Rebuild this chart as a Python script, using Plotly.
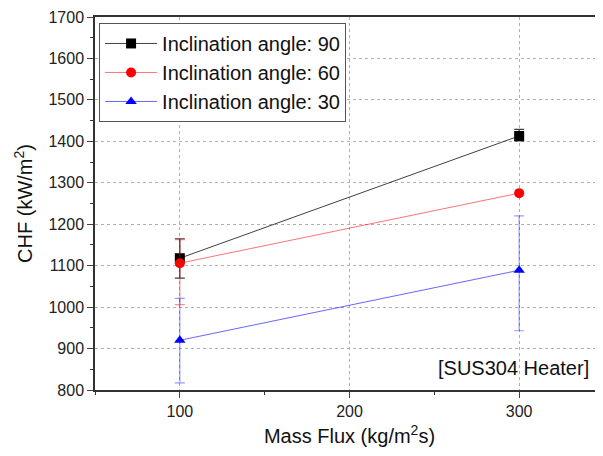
import plotly.graph_objects as go

mass_flux = [100, 300]
chf_90 = [1118, 1413]
err_90_plus = [47, 16]
err_90_minus = [48, 12]
chf_60 = [1106, 1275]
err_60_plus = [57, 0]
err_60_minus = [100, 0]
chf_30 = [920, 1089]
err_30_plus = [101, 131]
err_30_minus = [103, 146]

series = [
    ("Inclination angle: 90", chf_90, err_90_plus, err_90_minus, "black", "rgba(0,0,0,0.75)", "rgba(0,0,0,0.75)", "square"),
    ("Inclination angle: 60", chf_60, err_60_plus, err_60_minus, "red", "rgba(255,0,0,0.55)", "rgba(255,0,0,0.45)", "circle"),
    ("Inclination angle: 30", chf_30, err_30_plus, err_30_minus, "blue", "rgba(0,0,255,0.6)", "rgba(0,0,255,0.4)", "triangle-up"),
]

fig = go.Figure()
for name, ys, ep, em, col, lcol, ecol, sym in series:
    fig.add_trace(go.Scatter(
        x=mass_flux, y=ys, name=name, mode="lines+markers",
        line=dict(color=lcol, width=1),
        marker=dict(color=col, symbol=sym, size=10),
        error_y=dict(type="data", array=ep, arrayminus=em, color=ecol, thickness=1.2, width=5),
    ))

font_family = "Liberation Sans, Arial, sans-serif"
# page body has an 8px margin, so offsets are compensated here
fig.update_layout(
    width=603, height=456,
    margin=dict(l=87, r=7, t=9, b=74),
    paper_bgcolor="white", plot_bgcolor="white",
    font=dict(family=font_family, color="#222"),
    showlegend=True,
    legend=dict(x=0.008, y=0.984, xanchor="left", yanchor="top",
                bordercolor="#555", borderwidth=1, bgcolor="white",
                font=dict(size=20, color="#111"), tracegroupgap=0,
                itemwidth=52),
    annotations=[dict(x=0.975, y=0.025, xref="paper", yref="paper",
                      xanchor="right", yanchor="bottom", showarrow=False,
                      text="[SUS304 Heater]", font=dict(size=20, color="#111"))],
)
fig.update_xaxes(
    range=[50, 350], tickvals=[100, 200, 300], ticks="outside", ticklen=6,
    minor=dict(tickvals=[50, 150, 250, 350], ticks="outside", ticklen=3, tickcolor="#333", showgrid=False),
    showline=True, linecolor="#333", linewidth=1.5, mirror=True,
    showgrid=True, gridcolor="#b0b0b0", griddash="dot", gridwidth=1,
    tickfont=dict(size=16, color="#222"), zeroline=False, automargin=False,
    title=dict(text="Mass Flux (kg/m<sup>2</sup>s)", font=dict(size=20, color="#111"), standoff=10),
)
fig.update_yaxes(
    range=[800, 1700], dtick=100, ticks="outside", ticklen=6,
    minor=dict(dtick=50, ticks="outside", ticklen=3, tickcolor="#333", showgrid=False),
    showline=True, linecolor="#333", linewidth=1.5, mirror=True,
    showgrid=True, gridcolor="#b0b0b0", griddash="dot", gridwidth=1,
    tickfont=dict(size=16, color="#222"), zeroline=False, automargin=False,
    title=dict(text="CHF (kW/m<sup>2</sup>)", font=dict(size=20, color="#111"), standoff=10),
)
fig.write_html("out.html")
